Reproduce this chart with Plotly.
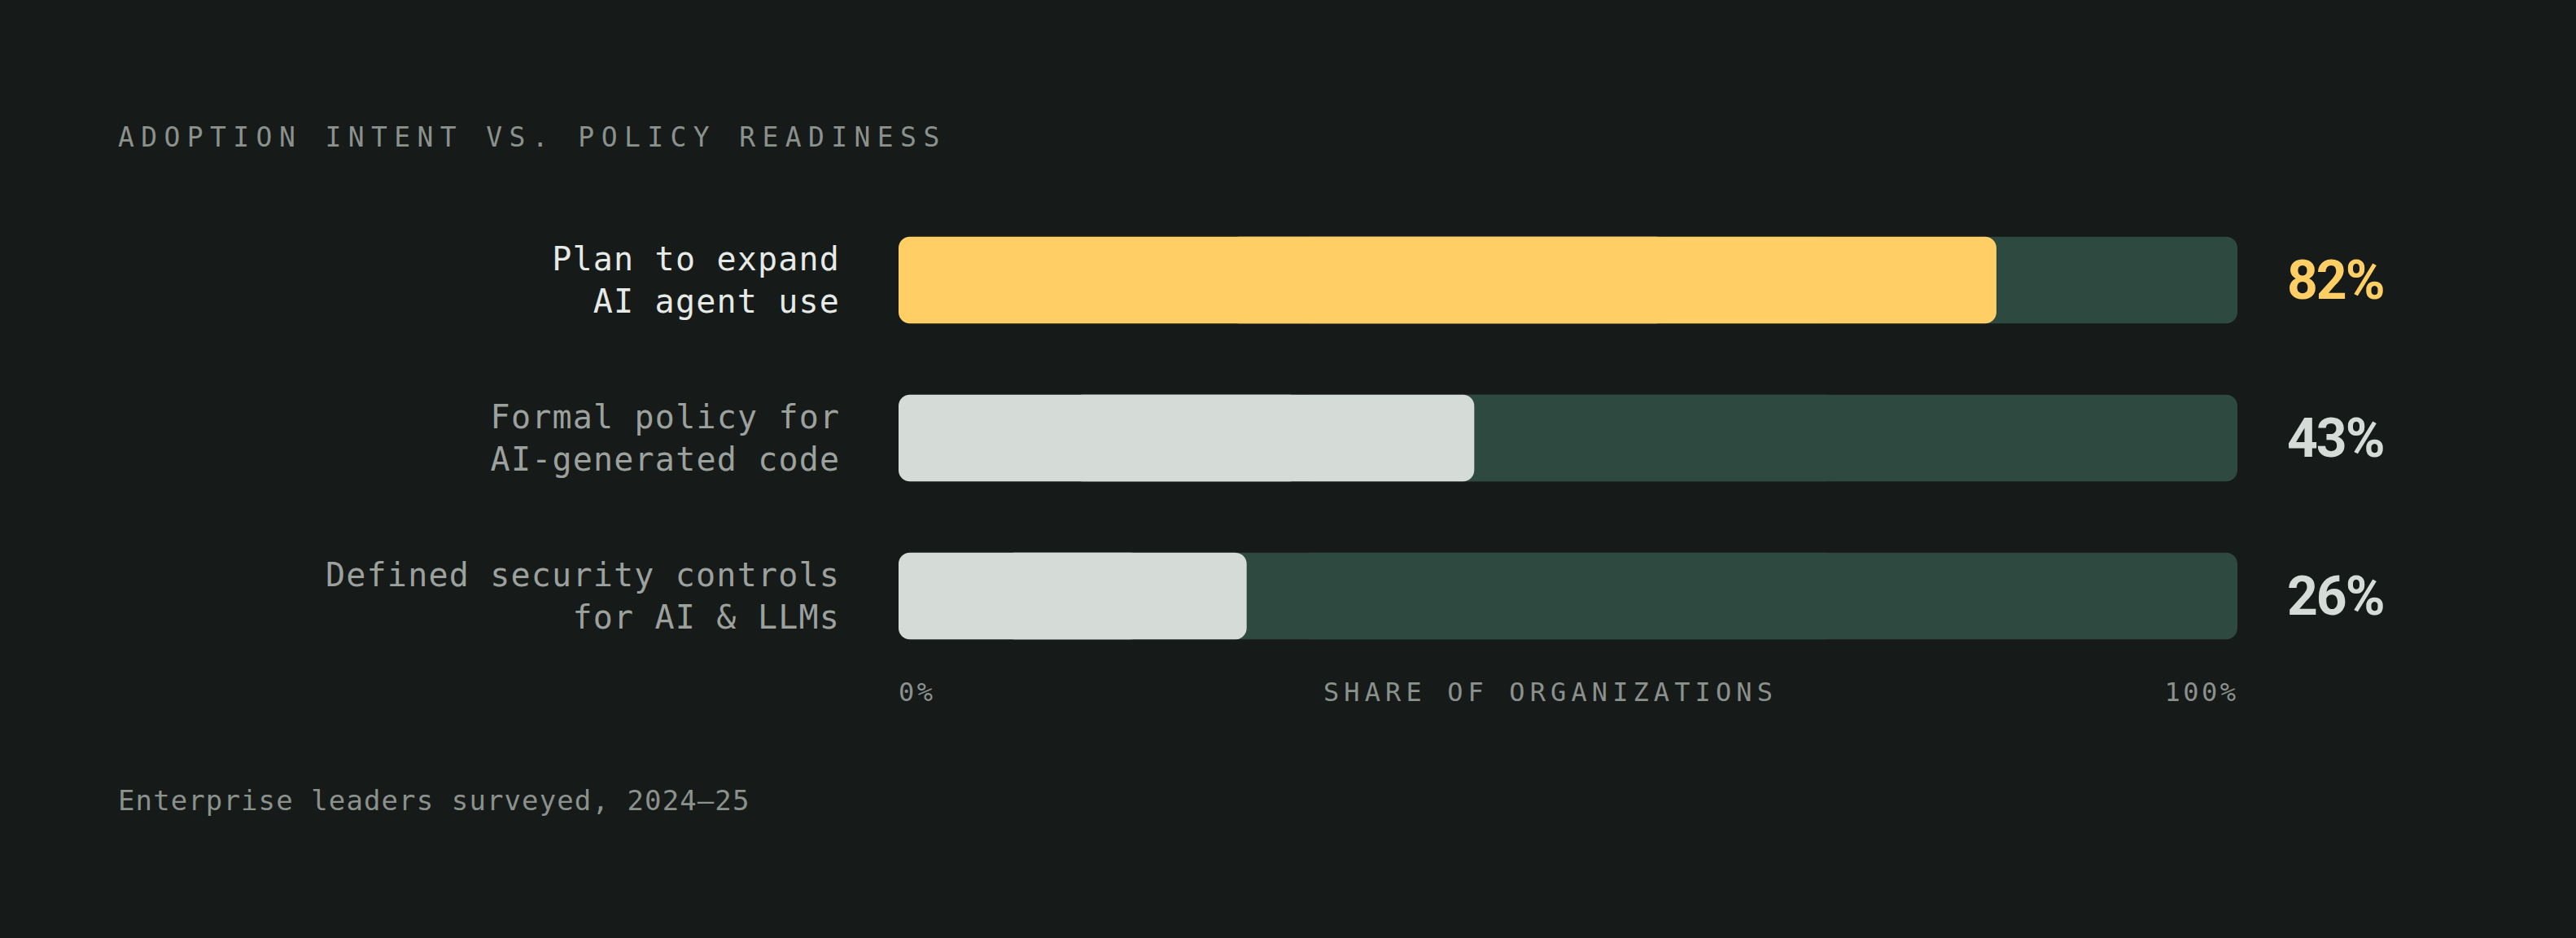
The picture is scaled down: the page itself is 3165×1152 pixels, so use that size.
import plotly.graph_objects as go

# ---- data ----
categories = ["Plan to expand<br>AI agent use",
              "Formal policy for<br>AI-generated code",
              "Defined security controls<br>for AI & LLMs"]
values = [82, 43, 26]
value_labels = ["82%", "43%", "26%"]
track_max = [100, 100, 100]
tick_vals = [0, 100]
tick_text = ["0%", "100%"]

title_text = "ADOPTION INTENT VS. POLICY READINESS"
axis_title = "SHARE OF ORGANIZATIONS"
footer_text = "Enterprise leaders surveyed, 2024\u201325"

# ---- style ----
BG = "#161a19"
TRACK = "#2e4a40"
FILL_COLORS = ["#ffcf66", "#d5dcd8", "#d5dcd8"]
LABEL_COLORS = ["#e6eae7", "#9ca19e", "#9ca19e"]
VALUE_COLORS = ["#ffcf66", "#d5dcd8", "#d5dcd8"]
MUTED = "#8b918d"
MONO = "DejaVu Sans Mono"

W, H = 3165, 1152
L, R, T, B = 1104, 416, 247, 323
PW, PH = W - L - R, H - T - B

fig = go.Figure()


def rounded_bar(vals, colors):
    # two overlapping halves so both ends get rounded corners
    right_base = [v * 0.3 for v in vals]
    right_len = [v - b for v, b in zip(vals, right_base)]
    left_base = [v * 0.7 for v in vals]
    left_len = [-b for b in left_base]
    for base, length in ((right_base, right_len), (left_base, left_len)):
        fig.add_trace(go.Bar(
            y=categories, x=length, base=base, orientation="h",
            marker=dict(color=colors, line=dict(width=0), cornerradius=14),
            opacity=1, hoverinfo="skip", showlegend=False,
        ))


rounded_bar(track_max, [TRACK] * 3)
rounded_bar(values, FILL_COLORS)

annotations = []
for cat, col in zip(categories, LABEL_COLORS):
    annotations.append(dict(
        xref="paper", x=0, xanchor="right", xshift=-70,
        yref="y", y=cat, yanchor="middle", align="right",
        text=cat, showarrow=False,
        font=dict(family=MONO, size=40, color=col)))
for cat, lab, col in zip(categories, value_labels, VALUE_COLORS):
    annotations.append(dict(
        xref="x", x=100, xanchor="left", xshift=59,
        yref="y", y=cat, yanchor="middle",
        text=lab, showarrow=False,
        font=dict(family="Roboto", size=66, color=col, weight=700)))

AXIS_Y = (H - B - 850) / PH
annotations.append(dict(xref="x", x=tick_vals[0], xanchor="left", xshift=-2,
                        yref="paper", y=AXIS_Y, yanchor="middle",
                        text=tick_text[0], showarrow=False,
                        font=dict(family=MONO, size=32, color=MUTED)))
annotations.append(dict(xref="x", x=tick_vals[1], xanchor="right", xshift=0,
                        yref="paper", y=AXIS_Y, yanchor="middle",
                        text=tick_text[1], showarrow=False,
                        font=dict(family=MONO, size=32, color=MUTED)))
annotations.append(dict(xref="paper", x=(1624 - L) / PW, xanchor="left",
                        yref="paper", y=AXIS_Y, yanchor="middle",
                        text=axis_title, showarrow=False,
                        font=dict(family=MONO, size=32, color=MUTED)))
annotations.append(dict(xref="paper", x=(143 - L) / PW, xanchor="left",
                        yref="paper", y=(H - B - 168) / PH, yanchor="middle",
                        text=title_text, showarrow=False,
                        font=dict(family=MONO, size=33, color=MUTED)))
annotations.append(dict(xref="paper", x=(143 - L) / PW, xanchor="left",
                        yref="paper", y=(H - B - 983) / PH, yanchor="middle",
                        text=footer_text, showarrow=False,
                        font=dict(family=MONO, size=34, color=MUTED)))

fig.update_layout(
    width=W, height=H,
    margin=dict(l=L, r=R, t=T, b=B, pad=0),
    paper_bgcolor=BG, plot_bgcolor=BG,
    barmode="overlay", bargap=0.45,
    showlegend=False,
    xaxis=dict(range=[0, 100], visible=False, fixedrange=True),
    yaxis=dict(type="category", categoryorder="array", categoryarray=categories,
               range=[2.5, -0.5], visible=False, fixedrange=True),
    annotations=annotations,
)

post_js = """
document.body.style.margin = '0';
document.body.style.background = '#161a19';
document.body.style.overflow = 'hidden';
var gd = document.getElementById('{plot_id}');
function applySpacing(){
  gd.querySelectorAll('text.annotation-text').forEach(function(t){
    var s = t.textContent;
    var sp = null, anchor = 'l';
    if (s.indexOf('ADOPTION') === 0) sp = '8.4px';
    else if (s.indexOf('SHARE OF') === 0) sp = '6.1px';
    else if (s === '0%') sp = '3.5px';
    else if (s === '100%') { sp = '3.5px'; anchor = 'r'; }
    else if (s.indexOf('Enterprise') === 0) sp = '1.1px';
    else if (/^[0-9]+%$/.test(s)) sp = '-2px';
    else { sp = '1.2px'; anchor = 'n'; }
    t.style.letterSpacing = '';
    var b0 = t.getBBox();
    t.style.letterSpacing = sp;
    var b1 = t.getBBox();
    var dx = 0;
    if (anchor === 'l') dx = b0.x - b1.x;
    else if (anchor === 'r') dx = (b0.x + b0.width) - (b1.x + b1.width) + 3.5;
    t.setAttribute('transform', 'translate(' + dx + ',0)');
  });
}
applySpacing();
gd.on('plotly_afterplot', applySpacing);
"""

fig.write_html("out.html", config={"displayModeBar": False}, post_script=post_js)
